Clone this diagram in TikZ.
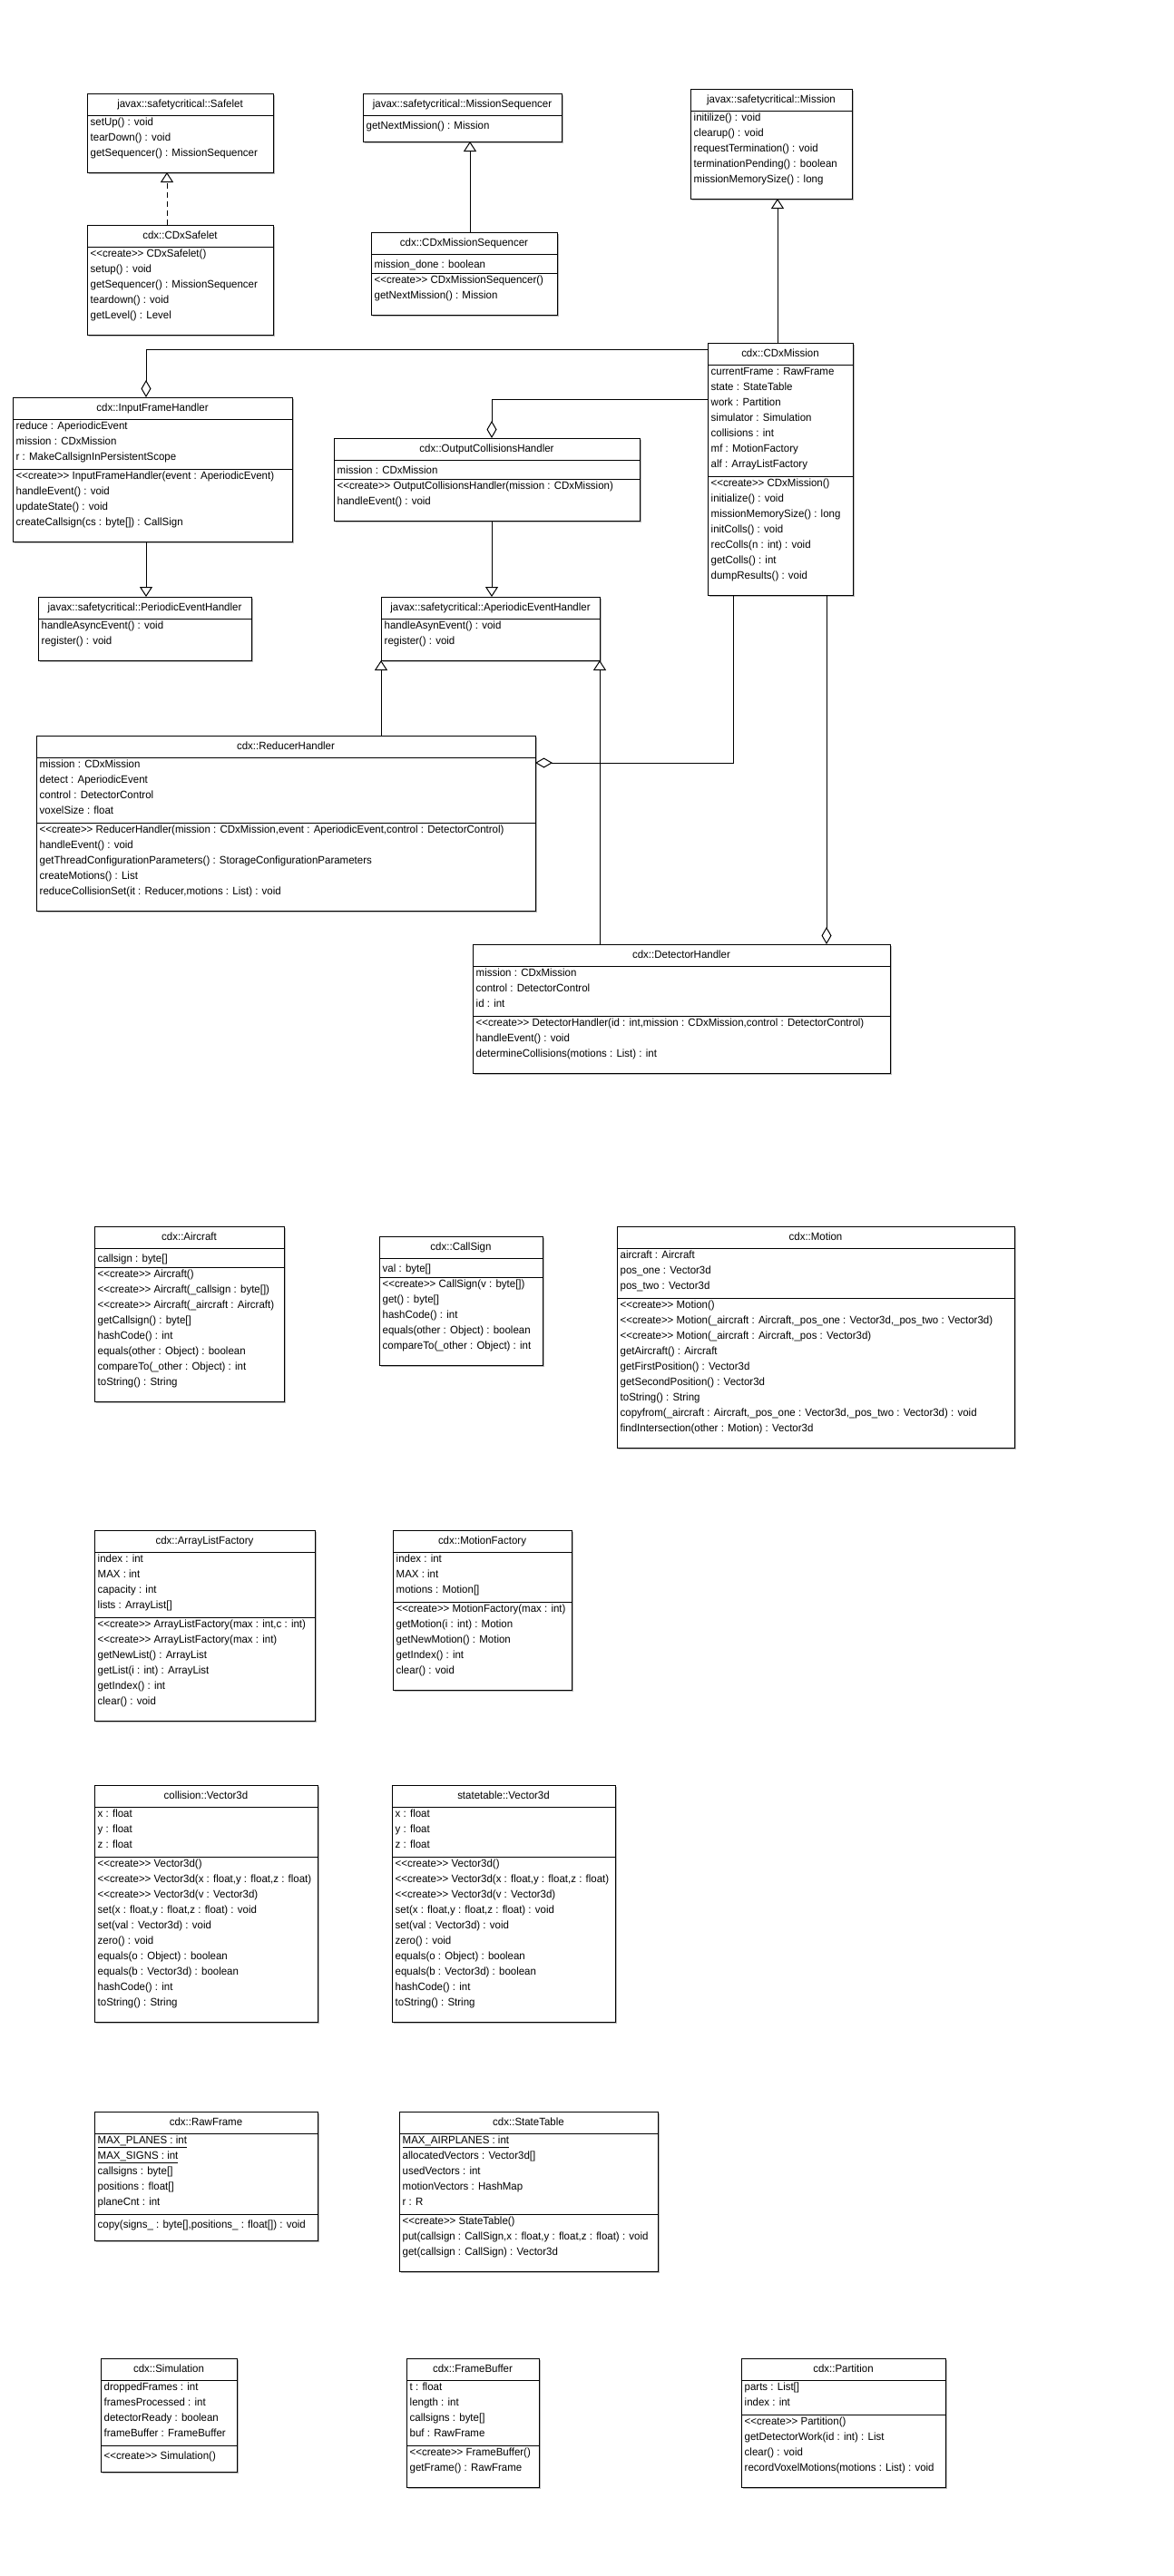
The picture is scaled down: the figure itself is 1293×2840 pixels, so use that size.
\documentclass[tikz,border=0pt]{standalone}
\usepackage{fontspec}
\setmainfont{Liberation Sans}[FakeStretch=0.965]
\usetikzlibrary{arrows.meta}

% strut that fixes the height of one class row (17pt)
\newcommand\rs{\rule[-5pt]{0pt}{17pt}}
% stereotype, with kerns so the angle brackets stay separate glyphs
\newcommand\cre{\textless\kern0pt\textless\kern0pt create\kern0pt\textgreater\kern0pt\textgreater\ }

\tikzset{
  umlline/.style={line width=1pt, black},
  classbox/.style={draw, line width=1pt, fill=white, inner sep=0pt, outer sep=0pt},
  rowtext/.style={inner sep=0pt, font=\fontsize{11.9}{17}\selectfont, execute at begin node=\rs},
  inherit/.style={umlline, -{Triangle[open, length=11pt, width=14pt]}},
  realize/.style={inherit, dash pattern=on 6pt off 4pt},
  aggr/.style={umlline, {Diamond[open, length=19pt, width=11pt]}-},
  shadowbox/.style={fill=black!28},
}

% #1 name, #2 x, #3 y (top left), #4 width, #5 title,
% #6 number of attributes, #7 attributes, #8 number of operations, #9 operations
\newcommand\umlclass[9]{%
  \pgfmathsetmacro\umlA{(#6>0)*(17*#6+4)}%
  \pgfmathsetmacro\umlM{17*#8+12}%
  \pgfmathsetmacro\umlH{24+\umlA+\umlM}%
  \fill[shadowbox] (#2+2,#3+2) rectangle (#2+#4+2,#3+\umlH+2);
  \node[classbox, minimum width=#4pt, minimum height=\umlH pt, anchor=north west] (#1) at (#2,#3) {};
  \draw[umlline] (#2,#3+24) -- (#2+#4,#3+24);
  \ifnum#6>0
    \draw[umlline] (#2,#3+24+\umlA) -- (#2+#4,#3+24+\umlA);
    \node[rowtext, anchor=north west, align=left] (#1-a) at (#2+3.5,#3+27) {#7};
  \fi
  \node[rowtext, anchor=north] (#1-t) at (#2+#4/2,#3+3) {#5};
  \node[rowtext, anchor=north west, align=left] (#1-m) at (#2+3.5,#3+27+\umlA) {#9};
}

\begin{document}
\begin{tikzpicture}[x=1pt, y=-1pt]
\fill[white] (0,0) rectangle (1293,2840);
\useasboundingbox (0,0) rectangle (1293,2840);

% ---------- framework and mission classes ----------
\umlclass{safelet}{96}{103}{205}{javax::safetycritical::Safelet}{0}{}{3}%
  {setUp() : void\\tearDown() : void\\getSequencer() : MissionSequencer}
\umlclass{missionseq}{400}{103}{219}{javax::safetycritical::MissionSequencer}{0}{}{1}%
  {getNextMission() : Mission}
\umlclass{mission}{761}{98}{178}{javax::safetycritical::Mission}{0}{}{5}%
  {initilize() : void\\clearup() : void\\requestTermination() : void\\terminationPending() : boolean\\missionMemorySize() : long}
\umlclass{cdxsafelet}{96}{248}{205}{cdx::CDxSafelet}{0}{}{5}%
  {\cre CDxSafelet()\\setup() : void\\getSequencer() : MissionSequencer\\teardown() : void\\getLevel() : Level}
\umlclass{cdxmseq}{409}{256}{205}{cdx::CDxMissionSequencer}{1}{mission\_done : boolean}{2}%
  {\cre CDxMissionSequencer()\\getNextMission() : Mission}
\umlclass{cdxmission}{780}{378}{160}{cdx::CDxMission}{7}%
  {currentFrame : RawFrame\\state : StateTable\\work : Partition\\simulator : Simulation\\collisions : int\\mf : MotionFactory\\alf : ArrayListFactory}{7}%
  {\cre CDxMission()\\initialize() : void\\missionMemorySize() : long\\initColls() : void\\recColls(n : int) : void\\getColls() : int\\dumpResults() : void}

% ---------- handlers ----------
\umlclass{ifh}{14}{438}{308}{cdx::InputFrameHandler}{3}%
  {reduce : AperiodicEvent\\mission : CDxMission\\r : MakeCallsignInPersistentScope}{4}%
  {\cre InputFrameHandler(event : AperiodicEvent)\\handleEvent() : void\\updateState() : void\\createCallsign(cs : byte[]) : CallSign}
\umlclass{och}{368}{483}{337}{cdx::OutputCollisionsHandler}{1}{mission : CDxMission}{2}%
  {\cre OutputCollisionsHandler(mission : CDxMission)\\handleEvent() : void}
\umlclass{peh}{42}{658}{235}{javax::safetycritical::PeriodicEventHandler}{0}{}{2}%
  {handleAsyncEvent() : void\\register() : void}
\umlclass{aeh}{420}{658}{241}{javax::safetycritical::AperiodicEventHandler}{0}{}{2}%
  {handleAsynEvent() : void\\register() : void}
\umlclass{reducer}{40}{811}{550}{cdx::ReducerHandler}{4}%
  {mission : CDxMission\\detect : AperiodicEvent\\control : DetectorControl\\voxelSize : float}{5}%
  {\cre ReducerHandler(mission : CDxMission,event : AperiodicEvent,control : DetectorControl)\\handleEvent() : void\\getThreadConfigurationParameters() : StorageConfigurationParameters\\createMotions() : List\\reduceCollisionSet(it : Reducer,motions : List) : void}
\umlclass{detector}{521}{1041}{460}{cdx::DetectorHandler}{3}%
  {mission : CDxMission\\control : DetectorControl\\id : int}{3}%
  {\cre DetectorHandler(id : int,mission : CDxMission,control : DetectorControl)\\handleEvent() : void\\determineCollisions(motions : List) : int}

% ---------- data classes ----------
\umlclass{aircraft}{104}{1352}{209}{cdx::Aircraft}{1}{callsign : byte[]}{8}%
  {\cre Aircraft()\\\cre Aircraft(\_callsign : byte[])\\\cre Aircraft(\_aircraft : Aircraft)\\getCallsign() : byte[]\\hashCode() : int\\equals(other : Object) : boolean\\compareTo(\_other : Object) : int\\toString() : String}
\umlclass{callsign}{418}{1363}{180}{cdx::CallSign}{1}{val : byte[]}{5}%
  {\cre CallSign(v : byte[])\\get() : byte[]\\hashCode() : int\\equals(other : Object) : boolean\\compareTo(\_other : Object) : int}
\umlclass{motion}{680}{1352}{438}{cdx::Motion}{3}%
  {aircraft : Aircraft\\pos\_one : Vector3d\\pos\_two : Vector3d}{9}%
  {\cre Motion()\\\cre Motion(\_aircraft : Aircraft,\_pos\_one : Vector3d,\_pos\_two : Vector3d)\\\cre Motion(\_aircraft : Aircraft,\_pos : Vector3d)\\getAircraft() : Aircraft\\getFirstPosition() : Vector3d\\getSecondPosition() : Vector3d\\toString() : String\\copyfrom(\_aircraft : Aircraft,\_pos\_one : Vector3d,\_pos\_two : Vector3d) : void\\findIntersection(other : Motion) : Vector3d}
\umlclass{alf}{104}{1687}{243}{cdx::ArrayListFactory}{4}%
  {index : int\\MAX : int\\capacity : int\\lists : ArrayList[]}{6}%
  {\cre ArrayListFactory(max : int,c : int)\\\cre ArrayListFactory(max : int)\\getNewList() : ArrayList\\getList(i : int) : ArrayList\\getIndex() : int\\clear() : void}
\umlclass{mf}{433}{1687}{197}{cdx::MotionFactory}{3}%
  {index : int\\MAX : int\\motions : Motion[]}{5}%
  {\cre MotionFactory(max : int)\\getMotion(i : int) : Motion\\getNewMotion() : Motion\\getIndex() : int\\clear() : void}
\umlclass{cvec}{104}{1968}{246}{collision::Vector3d}{3}%
  {x : float\\y : float\\z : float}{10}%
  {\cre Vector3d()\\\cre Vector3d(x : float,y : float,z : float)\\\cre Vector3d(v : Vector3d)\\set(x : float,y : float,z : float) : void\\set(val : Vector3d) : void\\zero() : void\\equals(o : Object) : boolean\\equals(b : Vector3d) : boolean\\hashCode() : int\\toString() : String}
\umlclass{svec}{432}{1968}{246}{statetable::Vector3d}{3}%
  {x : float\\y : float\\z : float}{10}%
  {\cre Vector3d()\\\cre Vector3d(x : float,y : float,z : float)\\\cre Vector3d(v : Vector3d)\\set(x : float,y : float,z : float) : void\\set(val : Vector3d) : void\\zero() : void\\equals(o : Object) : boolean\\equals(b : Vector3d) : boolean\\hashCode() : int\\toString() : String}
\umlclass{rawframe}{104}{2328}{246}{cdx::RawFrame}{5}%
  {\underline{MAX\_PLANES : int}\\\underline{MAX\_SIGNS : int}\\callsigns : byte[]\\positions : float[]\\planeCnt : int}{1}%
  {copy(signs\_ : byte[],positions\_ : float[]) : void}
\umlclass{statetable}{440}{2328}{285}{cdx::StateTable}{5}%
  {\underline{MAX\_AIRPLANES : int}\\allocatedVectors : Vector3d[]\\usedVectors : int\\motionVectors : HashMap\\r : R}{3}%
  {\cre StateTable()\\put(callsign : CallSign,x : float,y : float,z : float) : void\\get(callsign : CallSign) : Vector3d}
\umlclass{simulation}{111}{2600}{150}{cdx::Simulation}{4}%
  {droppedFrames : int\\framesProcessed : int\\detectorReady : boolean\\frameBuffer : FrameBuffer}{1}%
  {\cre Simulation()}
\umlclass{framebuffer}{448}{2600}{146}{cdx::FrameBuffer}{4}%
  {t : float\\length : int\\callsigns : byte[]\\buf : RawFrame}{2}%
  {\cre FrameBuffer()\\getFrame() : RawFrame}
\umlclass{partition}{817}{2600}{225}{cdx::Partition}{2}%
  {parts : List[]\\index : int}{4}%
  {\cre Partition()\\getDetectorWork(id : int) : List\\clear() : void\\recordVoxelMotions(motions : List) : void}

% ---------- relationships ----------
\coordinate (p1) at (184,0);
\coordinate (p2) at (518,0);
\coordinate (p3) at (857,0);
\coordinate (p4) at (161,0);
\coordinate (p5) at (542,0);
\coordinate (k1) at (161,385);
\coordinate (k2) at (542,440);
\coordinate (k3) at (808,841);
\coordinate (k4) at (911,0);

\draw[realize] (p1 |- cdxsafelet.north) -- (p1 |- safelet.south);
\draw[inherit] (p2 |- cdxmseq.north) -- (p2 |- missionseq.south);
\draw[inherit] (p3 |- cdxmission.north) -- (p3 |- mission.south);
\draw[inherit] (p4 |- ifh.south) -- (p4 |- peh.north);
\draw[inherit] (p5 |- och.south) -- (p5 |- aeh.north);
\draw[inherit] (aeh.south west |- reducer.north) -- (aeh.south west);
\draw[inherit] (aeh.south east |- detector.north) -- (aeh.south east);

\draw[aggr] (k1 |- ifh.north) -- (k1) -- (k1 -| cdxmission.west);
\draw[aggr] (k2 |- och.north) -- (k2) -- (k2 -| cdxmission.west);
\draw[aggr] (k3 -| reducer.east) -- (k3) -- (k3 |- cdxmission.south);
\draw[aggr] (k4 |- detector.north) -- (k4 |- cdxmission.south);
\end{tikzpicture}
\end{document}
